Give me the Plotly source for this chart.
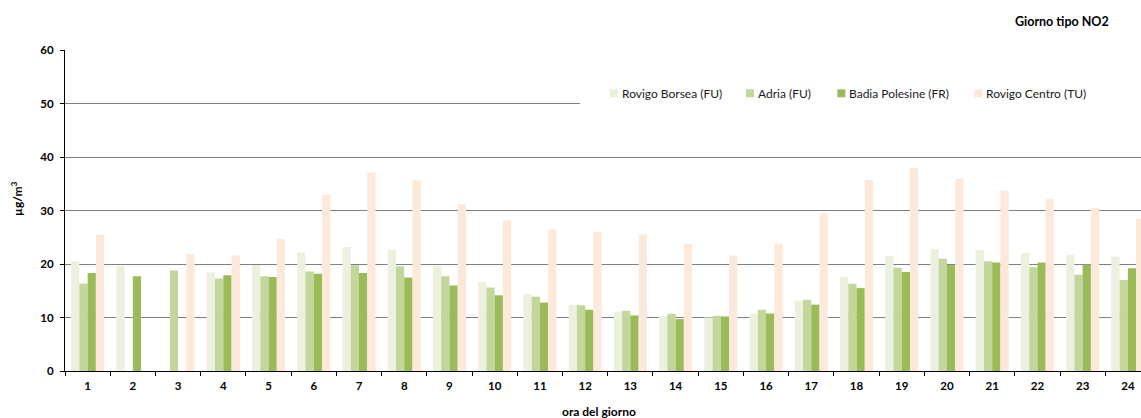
import plotly.graph_objects as go

# Hourly NO2 concentrations (µg/m³), typical day
hours = [str(h) for h in range(1, 25)]

rovigo_borsea = [20.5, 19.6, None, 18.4, 19.75, 22.1, 23.2, 22.6, 19.6, 16.6, 14.4, 12.3,
                 11.1, 10.25, 10.0, 10.7, 13.15, 17.55, 21.45, 22.8, 22.6, 22.1, 21.75, 21.4]
adria = [16.35, None, 18.8, 17.3, 17.7, 18.6, 19.75, 19.6, 17.7, 15.6, 13.9, 12.3,
         11.25, 10.7, 10.3, 11.45, 13.3, 16.3, 19.3, 21.0, 20.5, 19.4, 18.0, 17.0]
badia_polesine = [18.3, 17.7, None, 17.9, 17.55, 18.2, 18.3, 17.5, 16.0, 14.15, 12.8, 11.45,
                  10.4, 9.7, 10.2, 10.75, 12.4, 15.5, 18.5, 19.8, 20.3, 20.3, 19.9, 19.2]
rovigo_centro = [25.5, None, 21.8, 21.6, 24.65, 32.95, 37.1, 35.6, 31.2, 28.2, 26.5, 26.0,
                 25.5, 23.7, 21.6, 23.8, 29.4, 35.7, 37.9, 35.9, 33.7, 32.2, 30.4, 28.5]

series_names = ["Rovigo Borsea (FU)", "Adria (FU)", "Badia Polesine (FR)", "Rovigo Centro (TU)"]
series_values = [rovigo_borsea, adria, badia_polesine, rovigo_centro]
series_colors = ["#EBF1DE", "#C3D69B", "#9BBB59", "#FDE9D9"]

y_ticks = [0, 10, 20, 30, 40, 50, 60]

FONT = "Lato"

# Plot area in pixels (page is 1141 x 418)
W, H = 1141, 418
PL, PR, PT, PB = 65, 1141, 50, 371


def px_x(x):
    return (x - PL) / (PR - PL)


def px_y(y):
    return (PB - y) / (PB - PT)


fig = go.Figure()
for name, vals, col in zip(series_names, series_values, series_colors):
    fig.add_trace(go.Bar(
        x=hours, y=vals, name=name,
        marker=dict(color=col, line=dict(width=0)),
        showlegend=False,
    ))

# Legend drawn as a white panel with swatches and labels
legend_square_x = [609.7, 746, 837.3, 974.3]
shapes = [dict(type="rect", xref="paper", yref="paper",
               x0=px_x(580), x1=1.0, y0=px_y(114), y1=px_y(74),
               fillcolor="white", line=dict(width=0), layer="above")]
annotations = []
for name, col, sx in zip(series_names, series_colors, legend_square_x):
    shapes.append(dict(type="rect", xref="paper", yref="paper",
                       x0=px_x(sx), x1=px_x(sx + 8), y0=px_y(97.3), y1=px_y(89.3),
                       fillcolor=col, line=dict(width=0), layer="above"))
    annotations.append(dict(xref="paper", yref="paper", x=px_x(sx + 10), y=px_y(93.3),
                            xanchor="left", yanchor="middle", showarrow=False,
                            text=name, font=dict(family=FONT, size=12, color="#1a1a1a")))

# Chart title
annotations.append(dict(xref="paper", yref="paper", x=px_x(1062), y=px_y(21),
                        xanchor="center", yanchor="middle", showarrow=False,
                        text="Giorno tipo NO2",
                        font=dict(family=FONT, size=12.5, color="black", weight="bold")))
# Y axis title
annotations.append(dict(xref="paper", yref="paper", x=px_x(17), y=px_y(199),
                        xanchor="center", yanchor="middle", showarrow=False, textangle=-90,
                        text="µg/m<sup>3</sup>",
                        font=dict(family=FONT, size=12, color="black", weight="bold")))
# X axis title
annotations.append(dict(xref="paper", yref="paper", x=px_x(599), y=px_y(412),
                        xanchor="center", yanchor="middle", showarrow=False,
                        text="ora del giorno",
                        font=dict(family=FONT, size=12, color="black", weight="bold")))

fig.update_layout(
    width=W, height=H,
    margin=dict(l=PL, r=W - PR, t=PT, b=H - PB, pad=0),
    paper_bgcolor="white", plot_bgcolor="white",
    barmode="group", bargap=0.27, bargroupgap=0,
    shapes=shapes, annotations=annotations,
    font=dict(family=FONT, color="black"),
)
fig.update_xaxes(
    type="category", range=[-0.5, 23.29],
    tickson="boundaries", ticks="outside", ticklen=4, tickcolor="black", tickwidth=1,
    showline=True, linecolor="black", linewidth=1,
    showgrid=False, zeroline=False,
    tickfont=dict(family=FONT, size=11.5, color="black", weight="bold"),
    ticklabelstandoff=4,
)
fig.update_yaxes(
    range=[0, 60], tickvals=y_ticks,
    ticks="outside", ticklen=4, tickcolor="black", tickwidth=1,
    showline=True, linecolor="black", linewidth=1,
    showgrid=True, gridcolor="#808080", gridwidth=1, zeroline=False,
    tickfont=dict(family=FONT, size=11.5, color="black", weight="bold"),
    ticklabelstandoff=4,
)

fig.write_html("out.html")
